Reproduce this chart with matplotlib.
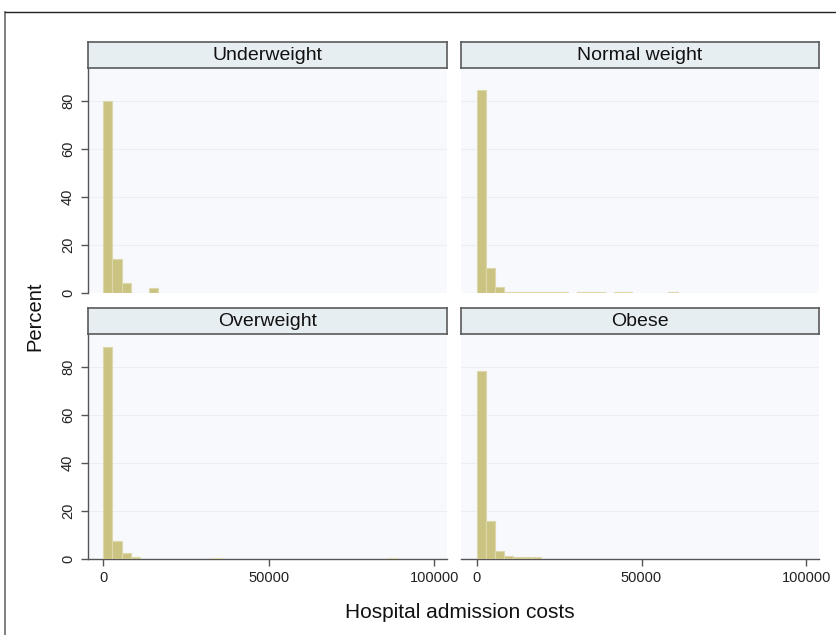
import matplotlib
matplotlib.use("Agg")
import matplotlib.pyplot as plt
from matplotlib.lines import Line2D

plt.rcParams['font.family'] = ['Liberation Sans', 'DejaVu Sans']

# Histogram bins of hospital admission costs (same bins for every BMI group)
bin_width = 2770

groups = ["Underweight", "Normal weight", "Overweight", "Obese"]

# Percent of admissions in each bin, by BMI group (bin index -> percent)
underweight_pct = {0: 80.0, 1: 14.0, 2: 4.0, 5: 2.0}
normal_pct = {0: 84.5, 1: 10.3, 2: 2.2, 3: 0.2, 4: 0.2, 5: 0.2, 6: 0.3,
              7: 0.3, 8: 0.3, 9: 0.3, 11: 0.3, 12: 0.3, 13: 0.3,
              15: 0.3, 16: 0.3, 21: 0.3}
overweight_pct = {0: 88.3, 1: 7.5, 2: 2.5, 3: 0.8, 12: 0.3, 31: 0.3}
obese_pct = {0: 78.0, 1: 15.9, 2: 3.3, 3: 1.1, 4: 0.5, 5: 0.5, 6: 0.5}

series = [underweight_pct, normal_pct, overweight_pct, obese_pct]

y_ticks = [0, 20, 40, 60, 80]
x_ticks = [0, 50000, 100000]
x_tick_labels = ["0", "50000", "100000"]

W, H = 837, 635
fig = plt.figure(figsize=(W / 100, H / 100), dpi=100)
fig.patch.set_facecolor("white")

# outer graph frame
fig.add_artist(Line2D([5 / W, 5 / W], [0, 1 - 12 / H], transform=fig.transFigure,
                      color="#6a6a6a", lw=1.2))
fig.add_artist(Line2D([5 / W, 1], [1 - 12 / H, 1 - 12 / H], transform=fig.transFigure,
                      color="#222222", lw=1.0))

bar_fc = "#cbc382"
bar_ec = "#ddd8ac"
plot_bg = "#f7f9fc"
grid_c = "#eceff2"
axis_c = "#555555"
strip_fc = "#e7eef1"

cols = [(87.5, 447.0), (461.0, 819.0)]
rows = [(68.0, 292.5), (334.0, 558.7)]
strip_h = 26.0

xlim = (-4740, 103830)
ylim = (0, 93.6)

for i, (name, pct) in enumerate(zip(groups, series)):
    r, c = divmod(i, 2)
    x0, x1 = cols[c]
    y0, y1 = rows[r]
    ax = fig.add_axes([x0 / W, 1 - y1 / H, (x1 - x0) / W, (y1 - y0) / H])
    ax.set_facecolor(plot_bg)
    ax.set_xlim(*xlim)
    ax.set_ylim(*ylim)

    idx = sorted(pct)
    lefts = [k * bin_width for k in idx]
    heights = [pct[k] for k in idx]
    ax.bar(lefts, heights, width=bin_width, align="edge",
           color=bar_fc, edgecolor=bar_ec, linewidth=0.8, zorder=3)

    for yt in y_ticks[1:]:
        ax.axhline(yt, color=grid_c, lw=0.8, zorder=1)

    for s in ax.spines.values():
        s.set_visible(False)

    # y axis only on the left column
    if c == 0:
        ax.spines["left"].set_visible(True)
        ax.spines["left"].set_color(axis_c)
        ax.spines["left"].set_linewidth(1.0)
        ax.set_yticks(y_ticks)
        ax.set_yticklabels([str(v) for v in y_ticks], rotation=90, va="center",
                           fontsize=10.5, color="#222222")
        ax.tick_params(axis="y", length=5, width=1.0, color=axis_c, pad=4)
    else:
        ax.set_yticks([])

    # x axis only on the bottom row
    if r == 1:
        ax.spines["bottom"].set_visible(True)
        ax.spines["bottom"].set_color(axis_c)
        ax.spines["bottom"].set_linewidth(1.0)
        ax.set_xticks(x_ticks)
        ax.set_xticklabels(x_tick_labels, fontsize=10.5, color="#222222")
        ax.tick_params(axis="x", length=5, width=1.0, color=axis_c, pad=4)
    else:
        ax.set_xticks([])

    # facet title strip
    sax = fig.add_axes([x0 / W, 1 - y0 / H, (x1 - x0) / W, strip_h / H])
    sax.set_xticks([])
    sax.set_yticks([])
    sax.set_facecolor(strip_fc)
    for s in sax.spines.values():
        s.set_color("#5a5a5a")
        s.set_linewidth(1.2)
    sax.text(0.5, 0.47, name, ha="center", va="center", fontsize=14,
             color="#111111", transform=sax.transAxes)

fig.text(35 / W, 1 - 316 / H, "Percent", rotation=90, ha="center", va="center",
         fontsize=14.5, color="#111111")
fig.text(460 / W, 1 - 612 / H, "Hospital admission costs", ha="center", va="center",
         fontsize=15, color="#111111")

fig.savefig("out.png", dpi=100, facecolor="white")
